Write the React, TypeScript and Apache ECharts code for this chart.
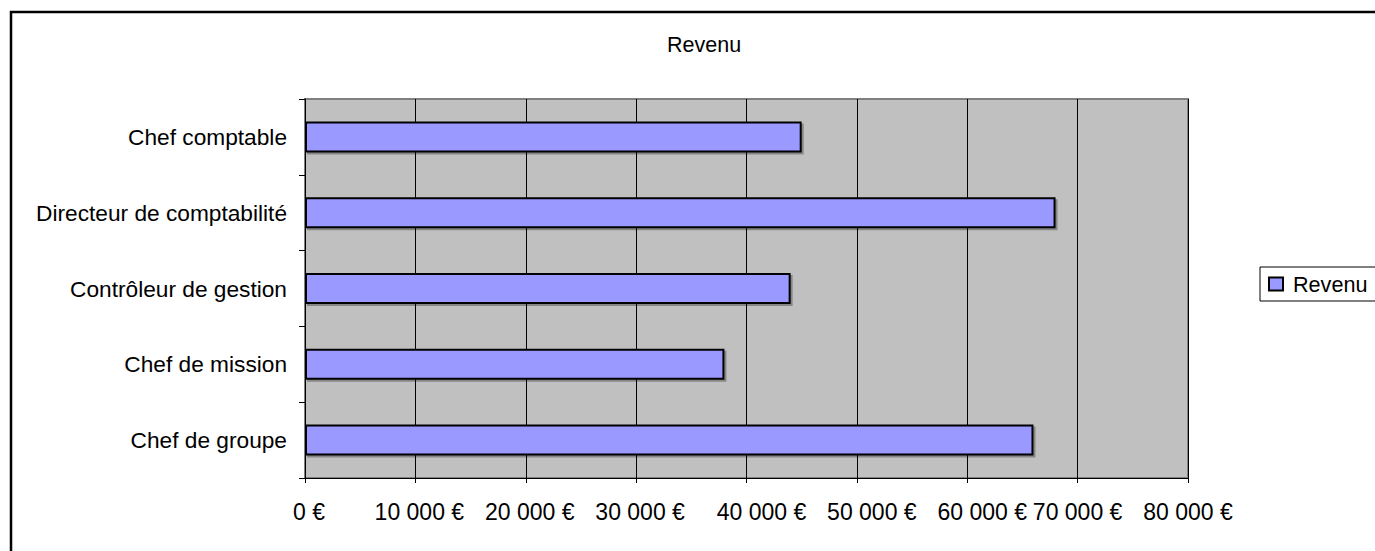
import React, { useEffect, useRef } from "react";
import * as echarts from "echarts";

const categories = [
  "Chef comptable",
  "Directeur de comptabilité",
  "Contrôleur de gestion",
  "Chef de mission",
  "Chef de groupe",
];
const revenu = [45000, 68000, 44000, 38000, 66000];
const seriesName = "Revenu";
const titleText = "Revenu";

const FONT = "'Liberation Sans', Arial, sans-serif";

function fmtEuro(v: number): string {
  return String(v).replace(/\B(?=(\d{3})+(?!\d))/g, " ") + " €";
}

export default function App() {
  const ref = useRef<HTMLDivElement>(null);
  useEffect(() => {
    if (!ref.current) return;
    const chart = echarts.init(ref.current, undefined, { renderer: "svg" });
    const labelStyle = { fontFamily: FONT, fontSize: 23, color: "#000" };
    chart.setOption({
      animation: false,
      backgroundColor: "#ffffff",
      title: {
        text: titleText,
        left: 667,
        top: 34,
        padding: 0,
        textStyle: { fontFamily: FONT, fontSize: 21.5, fontWeight: "normal", color: "#000" },
      },
      legend: {
        left: 1260,
        top: 267,
        orient: "vertical",
        data: [seriesName],
        borderColor: "#000",
        borderWidth: 1,
        padding: [6, 20, 6, 8],
        itemWidth: 14,
        itemHeight: 13,
        icon: "rect",
        textStyle: { fontFamily: FONT, fontSize: 21.6, color: "#000", padding: [0, 0, 0, 5] },
      },
      grid: {
        left: 305,
        top: 99,
        right: 187,
        bottom: 73,
        show: true,
        backgroundColor: "#C0C0C0",
        borderColor: "#808080",
        borderWidth: 2,
      },
      xAxis: {
        type: "value",
        min: 0,
        max: 80000,
        interval: 10000,
        axisLine: { show: true, lineStyle: { color: "#000", width: 1 } },
        axisTick: { show: true, inside: false, length: 5, lineStyle: { color: "#000" } },
        splitLine: { show: true, lineStyle: { color: "#000", width: 1 } },
        axisLabel: {
          ...labelStyle,
          margin: 22,
          formatter: (v: number) => {
            const s = fmtEuro(v);
            if (v >= 70000) return "{c|" + s + "}";
            if (v >= 40000) return "{b|" + s + "}";
            return "{a|" + s + "}";
          },
          rich: {
            a: { ...labelStyle, padding: [0, 0, 0, 8] },
            b: { ...labelStyle, padding: [0, 0, 0, 30] },
            c: { ...labelStyle },
          },
        },
      },
      yAxis: {
        type: "category",
        inverse: true,
        data: categories,
        axisLine: { show: true, lineStyle: { color: "#000", width: 1 } },
        axisTick: { show: true, inside: false, length: 6, lineStyle: { color: "#000" } },
        splitLine: { show: false },
        axisLabel: { fontFamily: FONT, fontSize: 22.7, color: "#000", margin: 18 },
      },
      series: [
        {
          name: seriesName,
          type: "bar",
          data: revenu,
          barWidth: 31,
          itemStyle: {
            color: "#9999FF",
            borderColor: "#000",
            borderWidth: 2,
            shadowColor: "rgba(0,0,0,0.3)",
            shadowOffsetX: 2,
            shadowOffsetY: 2,
            shadowBlur: 0,
          },
        },
      ],
      graphic: [
        {
          type: "rect",
          shape: { x: 11, y: 12, width: 1400, height: 600 },
          style: { fill: "none", stroke: "#000", lineWidth: 2.5 },
          silent: true,
          z: 100,
        },
      ],
    });
    return () => chart.dispose();
  }, []);
  return (
    <div
      ref={ref}
      style={{ position: "absolute", left: 0, top: 0, width: 1375, height: 551 }}
    />
  );
}
